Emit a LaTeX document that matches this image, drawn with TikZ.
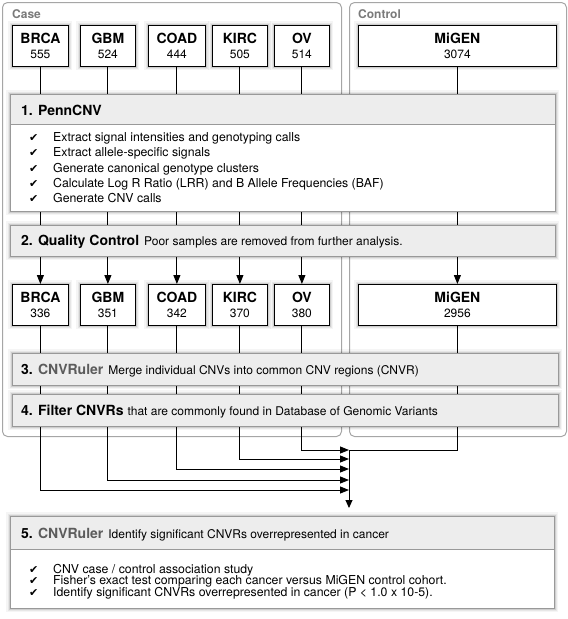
\documentclass[tikz,border=0pt]{standalone}
\usepackage{fontspec}
\setmainfont{TeX Gyre Heros}
\newfontfamily\ckfont{DejaVu Sans}
\usetikzlibrary{arrows.meta}
\pgfdeclarelayer{back}
\pgfdeclarelayer{mid}
\pgfsetlayers{back,mid,main}
\definecolor{cnvgray}{HTML}{5C5C5C}
\definecolor{lblgray}{HTML}{7A7A7A}
\newcommand{\ck}{\makebox[24pt][l]{\ckfont\fontsize{11}{12}\selectfont ✔}}
\begin{document}
\begin{tikzpicture}[x=1pt,y=-1pt,
  shad/.style={preaction={draw=black,draw opacity=0.04,line width=8pt},
               preaction={draw=black,draw opacity=0.06,line width=5pt},
               preaction={draw=black,draw opacity=0.10,line width=2.6pt}},
  sample/.style={shad,draw=black,line width=0.8pt,fill=white,anchor=north west,
    minimum height=41pt,inner sep=0pt,align=center,font=\fontsize{12}{15}\selectfont},
  stepbox/.style={shad,draw=gray!80,line width=0.8pt,fill=gray!14,anchor=north west,inner sep=0pt},
  whitebox/.style={shad,draw=gray!80,line width=0.8pt,fill=white,anchor=north west,inner sep=0pt},
  headbox/.style={draw=gray!80,line width=0.8pt,fill=gray!14,anchor=north west,inner sep=0pt},
  panel/.style={draw=gray!70,line width=1pt,rounded corners=5pt,fill=white,anchor=north west,inner sep=0pt},
  ttl/.style={anchor=base west,inner sep=0pt,font=\fontsize{14}{16}\selectfont\bfseries},
  bullet/.style={anchor=base west,inner sep=0pt,font=\fontsize{12.3}{14}\selectfont},
  lbl/.style={anchor=base west,inner sep=0pt,font=\fontsize{12}{14}\selectfont\bfseries,text=lblgray},
  line/.style={draw=black,line width=0.9pt},
  arr/.style={line,-{Triangle[length=9pt,width=7pt]}},
]
\useasboundingbox (0,0) rectangle (568,619);

% panels
\begin{pgfonlayer}{back}
\node[panel,minimum width=339pt,minimum height=434pt] (casep) at (2,2) {};
\node[panel,minimum width=217pt,minimum height=434pt] (ctrlp) at (349,2) {};
\end{pgfonlayer}
\node[lbl] (caselbl) at (12,18) {Case};
\node[lbl] (ctrllbl) at (358,18) {Control};

\newcommand{\samp}[2]{{\fontsize{14}{15}\selectfont\bfseries #1}\\#2}

% top sample boxes
\node[sample,minimum width=56pt] (t1) at (12,25) {\samp{BRCA}{555}};
\node[sample,minimum width=55pt] (t2) at (80,25) {\samp{GBM}{524}};
\node[sample,minimum width=57pt] (t3) at (148,25) {\samp{COAD}{444}};
\node[sample,minimum width=55pt] (t4) at (212,25) {\samp{KIRC}{505}};
\node[sample,minimum width=55pt] (t5) at (274,25) {\samp{OV}{514}};
\node[sample,minimum width=198pt] (t6) at (358,25) {\samp{MiGEN}{3074}};

% second sample boxes
\node[sample,minimum width=56pt] (s1) at (12,284) {\samp{BRCA}{336}};
\node[sample,minimum width=55pt] (s2) at (80,284) {\samp{GBM}{351}};
\node[sample,minimum width=57pt] (s3) at (148,284) {\samp{COAD}{342}};
\node[sample,minimum width=55pt] (s4) at (212,284) {\samp{KIRC}{370}};
\node[sample,minimum width=55pt] (s5) at (274,284) {\samp{OV}{380}};
\node[sample,minimum width=198pt] (s6) at (358,284) {\samp{MiGEN}{2956}};

% step 1
\node[whitebox,minimum width=545pt,minimum height=117pt] (penn) at (10,94) {};
\node[headbox,minimum width=545pt,minimum height=30pt] (pennhead) at (10,94) {};
\node[ttl] (h1) at (21,115) {1. PennCNV};
\node[bullet] (p1) at (29,141) {\ck Extract signal intensities and genotyping calls};
\node[bullet] (p2) at (29,156.5) {\ck Extract allele-specific signals};
\node[bullet] (p3) at (29,172) {\ck Generate canonical genotype clusters};
\node[bullet] (p4) at (29,187) {\ck Calculate Log R Ratio (LRR) and B Allele Frequencies (BAF)};
\node[bullet] (p5) at (29,202.5) {\ck Generate CNV calls};

% step 2
\node[stepbox,minimum width=545pt,minimum height=31pt] (qc) at (10,225) {};
\node[ttl] (h2) at (21,245) {2. Quality Control\hspace{5pt}{\fontsize{12}{14}\selectfont\mdseries Poor samples are removed from further analysis.}};

% step 3
\node[stepbox,minimum width=546pt,minimum height=32pt] (cnvr) at (12,353) {};
\node[ttl] (h3) at (21,374) {3. {\color{cnvgray}CNVRuler}\hspace{5pt}{\fontsize{12}{14}\selectfont\mdseries Merge individual CNVs into common CNV regions (CNVR)}};

% step 4
\node[stepbox,minimum width=546pt,minimum height=32pt] (filt) at (12,394) {};
\node[ttl] (h4) at (21,415) {4. Filter CNVRs\hspace{4pt}{\fontsize{12}{14}\selectfont\mdseries that are commonly found in Database of Genomic Variants}};

% step 5
\node[whitebox,minimum width=544pt,minimum height=92pt] (step5) at (10,516) {};
\node[headbox,minimum width=544pt,minimum height=33pt] (step5head) at (10,516) {};
\node[ttl] (h5) at (21,538) {5. {\color{cnvgray}CNVRuler}\hspace{5pt}{\fontsize{12}{14}\selectfont\mdseries Identify significant CNVRs overrepresented in cancer}};
\node[bullet] (q1) at (29,573) {\ck CNV case / control association study};
\node[bullet] (q2) at (29,584.5) {\ck Fisher’s exact test comparing each cancer versus MiGEN control cohort.};
\node[bullet] (q3) at (29,596) {\ck Identify significant CNVRs overrepresented in cancer (P < 1.0 x 10-5).};

% merge points
\coordinate (m1) at (349,490);
\coordinate (m2) at (349,480);
\coordinate (m3) at (349,469);
\coordinate (m4) at (349,459);
\coordinate (m5) at (349,450);

\begin{pgfonlayer}{mid}
\foreach \i in {1,...,6} {
  \draw[arr] (t\i.south) -- (s\i.north);
}
\draw[arr] (s1.south) |- (m1);
\draw[arr] (s2.south) |- (m2);
\draw[arr] (s3.south) |- (m3);
\draw[arr] (s4.south) |- (m4);
\draw[arr] (s5.south) |- (m5);
\draw[line] (s6.south) |- (m5);
\draw[line,-{Triangle[length=8pt,width=7pt]},shorten >=8pt] (m5) -- (m5 |- step5.north);
\end{pgfonlayer}
\end{tikzpicture}
\end{document}
